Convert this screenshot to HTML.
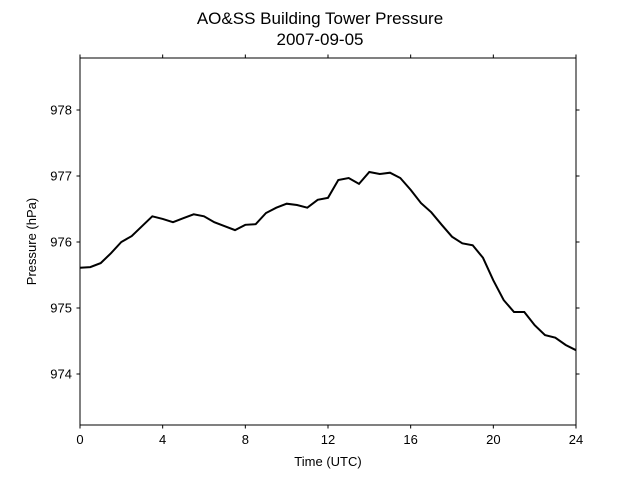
<!DOCTYPE html>
<html><head><meta charset="utf-8"><style>
body{margin:0;background:#fff;}
svg{display:block;font-family:"Liberation Sans","DejaVu Sans",sans-serif;}
</style></head><body>
<svg id="chart" width="640" height="480">
<text x="320" y="24" text-anchor="middle" font-size="17">AO&amp;SS Building Tower Pressure</text>
<text x="320" y="45" text-anchor="middle" font-size="17">2007-09-05</text>
<rect x="80" y="58" width="496" height="367" fill="none" stroke="#000" stroke-width="1"/>
<g id="ticks"></g>
<path id="line" fill="none" stroke="#000" stroke-width="2"/>
<text x="328" y="466" text-anchor="middle" font-size="13">Time (UTC)</text>
<text transform="translate(36,241.5) rotate(-90)" text-anchor="middle" font-size="13">Pressure (hPa)</text>
</svg>
<script>
const xTicks=[0,4,8,12,16,20,24];
const yTicks=[974,975,976,977,978];
const hours=[0,0.5,1,1.5,2,2.5,3,3.5,4,4.5,5,5.5,6,6.5,7,7.5,8,8.5,9,9.5,10,10.5,11,11.5,12,12.5,13,13.5,14,14.5,15,15.5,16,16.5,17,17.5,18,18.5,19,19.5,20,20.5,21,21.5,22,22.5,23,23.5,24];
const pressure=[975.61,975.62,975.68,975.83,976.0,976.09,976.24,976.39,976.35,976.30,976.36,976.42,976.39,976.30,976.24,976.18,976.26,976.27,976.44,976.52,976.58,976.56,976.52,976.64,976.67,976.94,976.97,976.88,977.06,977.03,977.05,976.97,976.79,976.59,976.45,976.26,976.08,975.98,975.95,975.76,975.42,975.12,974.94,974.94,974.74,974.59,974.55,974.44,974.36];
const X=h=>80+h*(496/24);
const Y=v=>110+(978-v)*66;
const NS="http://www.w3.org/2000/svg";
const g=document.getElementById('ticks');
function ln(x1,y1,x2,y2){const l=document.createElementNS(NS,'line');l.setAttribute('x1',x1);l.setAttribute('y1',y1);l.setAttribute('x2',x2);l.setAttribute('y2',y2);l.setAttribute('stroke','#000');g.appendChild(l);return l;}
xTicks.forEach(t=>{const x=X(t);
 const a=ln(x,425,x,428.5);
 
 
 const b=ln(x,58,x,54.5);
 
 
 const tx=document.createElementNS(NS,'text');tx.setAttribute('x',x);tx.setAttribute('y',444);tx.setAttribute('text-anchor','middle');tx.setAttribute('font-size','13');tx.textContent=t;
 
 
 g.appendChild(tx);});
yTicks.forEach(t=>{const y=Y(t);
 const a=ln(80,y,76.5,y);
 
 
 const b=ln(576,y,579.5,y);
 
 
 const tx=document.createElementNS(NS,'text');tx.setAttribute('x',72);tx.setAttribute('y',y+4.5);tx.setAttribute('text-anchor','end');tx.setAttribute('font-size','13');tx.textContent=t;
 
 
 g.appendChild(tx);});
document.getElementById('line').setAttribute('d',hours.map((h,i)=>(i?'L':'M')+X(h).toFixed(1)+','+Y(pressure[i]).toFixed(1)).join(''));
</script>
</body></html>
